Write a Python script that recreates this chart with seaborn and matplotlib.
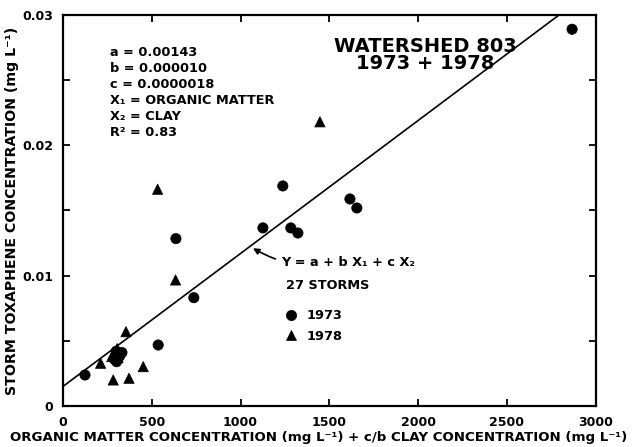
import numpy as np
import pandas as pd
import matplotlib
matplotlib.use("Agg")
import matplotlib.pyplot as plt
import seaborn as sns
from matplotlib.ticker import MultipleLocator

# ---- data ----
x_1973 = [124, 536, 636, 737, 1126, 1238, 1283, 1323, 1616, 1655, 2867,
          300, 318, 288, 332, 302]
y_1973 = [0.00238, 0.00468, 0.01284, 0.00831, 0.01366, 0.01688, 0.01366,
          0.01327, 0.01588, 0.01519, 0.0289,
          0.0042, 0.0038, 0.0036, 0.0041, 0.0034]
x_1978 = [1447, 533, 634, 355, 212, 283, 372, 452, 305, 275, 310]
y_1978 = [0.0218, 0.01663, 0.00967, 0.0057, 0.00328, 0.0020, 0.00213,
          0.00302, 0.0044, 0.0038, 0.0037]

fit_intercept = 0.0015
fit_slope = 0.0000102
line_x = [0, 3000]

x_ticks = [0, 500, 1000, 1500, 2000, 2500, 3000]
y_ticks = [0, 0.01, 0.02, 0.03]
y_tick_labels = ["0", "0.01", "0.02", "0.03"]

params_text = ["a = 0.00143", "b = 0.000010", "c = 0.0000018",
               "X\u2081 = ORGANIC MATTER", "X\u2082 = CLAY", "R\u00b2 = 0.83"]

df = pd.DataFrame({
    "x": x_1973 + x_1978,
    "y": y_1973 + y_1978,
    "year": ["1973"] * len(x_1973) + ["1978"] * len(x_1978),
})
line_df = pd.DataFrame({"x": line_x,
                        "y": [fit_intercept + fit_slope * v for v in line_x]})

sns.set_theme(style="ticks")
plt.rcParams["font.family"] = ["DejaVu Sans"]
plt.rcParams["axes.linewidth"] = 1.6
for k in ["text.color", "axes.labelcolor", "xtick.color", "ytick.color",
          "axes.edgecolor"]:
    plt.rcParams[k] = "black"

fig = plt.figure(figsize=(6.38, 4.47), dpi=100)
ax = fig.add_axes([0.0987, 0.0917, 0.835, 0.875])

sns.lineplot(data=line_df, x="x", y="y", ax=ax, color="black", lw=1.2,
             legend=False)
sns.scatterplot(data=df, x="x", y="y", style="year",
                markers={"1973": "o", "1978": "^"}, color="black",
                s=55, edgecolor="black", linewidth=0.5, ax=ax, legend=True)

ax.set_xlim(0, 3000)
ax.set_ylim(0, 0.03)
ax.set_xticks(x_ticks)
ax.set_xticklabels([str(t) for t in x_ticks])
ax.set_yticks(y_ticks)
ax.set_yticklabels(y_tick_labels)
ax.yaxis.set_minor_locator(MultipleLocator(0.005))
ax.tick_params(which="both", direction="in", top=True, right=True,
               width=1.3, labelsize=9)
ax.tick_params(which="major", length=5, pad=7)
ax.tick_params(which="minor", length=5)
for lbl in ax.get_xticklabels() + ax.get_yticklabels():
    lbl.set_fontweight("bold")

ax.set_xlabel("ORGANIC MATTER CONCENTRATION (mg L\u207b\u00b9) + c/b CLAY CONCENTRATION (mg L\u207b\u00b9)",
              fontsize=9.6, fontweight="bold")
ax.xaxis.set_label_coords(0.48, -0.065, transform=ax.transAxes)
ax.xaxis.label.set_va("top")
ax.set_ylabel("STORM TOXAPHENE CONCENTRATION (mg L\u207b\u00b9)",
              fontsize=10.2, fontweight="bold", labelpad=2)

# parameter block
for i, t in enumerate(params_text):
    ax.text(0.088, 0.905 - i * 0.041, t, transform=ax.transAxes,
            fontsize=9.3, fontweight="bold", va="center", ha="left")

ax.text(0.68, 0.92, "WATERSHED 803", transform=ax.transAxes,
        fontsize=14, fontweight="bold", ha="center", va="center")
ax.text(0.68, 0.875, "1973 + 1978", transform=ax.transAxes,
        fontsize=14, fontweight="bold", ha="center", va="center")

ax.annotate("Y = a + b X\u2081 + c X\u2082", xy=(1070, 0.0121),
            xytext=(0.41, 0.366), textcoords="axes fraction",
            fontsize=9.3, fontweight="bold", va="center", ha="left",
            arrowprops=dict(arrowstyle="-|>", color="black", lw=1.2,
                            connectionstyle="arc3,rad=-0.2",
                            shrinkA=2, shrinkB=0, mutation_scale=9))
ax.text(0.418, 0.308, "27 STORMS", transform=ax.transAxes,
        fontsize=9.3, fontweight="bold", va="center", ha="left")

leg = ax.legend(loc="upper left", bbox_to_anchor=(0.395, 0.26), frameon=False,
                fontsize=9.3, handletextpad=0.2, labelspacing=0.55,
                title=None, borderaxespad=0)
for txt in leg.get_texts():
    txt.set_fontweight("bold")

fig.savefig("out.png", dpi=100)
